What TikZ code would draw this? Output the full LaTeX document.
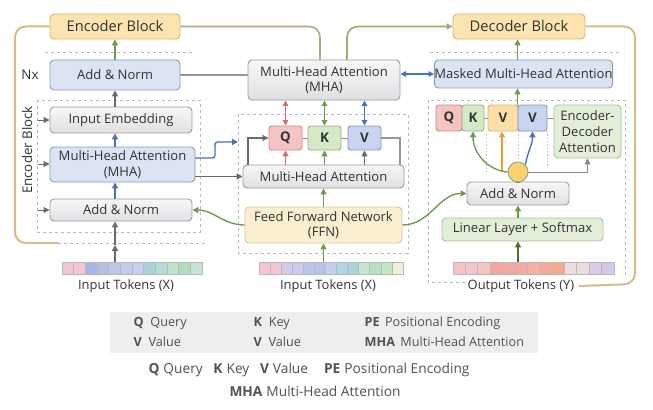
\documentclass[tikz,border=0pt]{standalone}
\usepackage{fontspec}
\setmainfont{Open Sans}
\usetikzlibrary{arrows.meta}
\definecolor{txt}{HTML}{333333}
\definecolor{orF}{HTML}{FCE3B0}\definecolor{orD}{HTML}{DDB46C}
\definecolor{blF}{HTML}{DCE3F2}\definecolor{blD}{HTML}{8C9CBA}
\definecolor{grT}{HTML}{F7F7F8}\definecolor{grB}{HTML}{E0E0E4}\definecolor{grD}{HTML}{9C9CA2}
\definecolor{qF}{HTML}{F5C4C2}\definecolor{qD}{HTML}{D08A88}
\definecolor{kF}{HTML}{D6E9C6}\definecolor{kD}{HTML}{93B282}
\definecolor{vF}{HTML}{C9D5F0}\definecolor{vD}{HTML}{8293C2}
\definecolor{voF}{HTML}{FCDFA6}\definecolor{voD}{HTML}{D9B46E}
\definecolor{ffF}{HTML}{FAEFD0}\definecolor{ffD}{HTML}{D8C693}
\definecolor{lnF}{HTML}{E3EED8}\definecolor{lnD}{HTML}{A9C198}
\definecolor{cyF}{HTML}{FAD46A}
\definecolor{cG}{HTML}{6C9A48}\definecolor{cB}{HTML}{4A72B0}\definecolor{cK}{HTML}{6A6A6A}
\definecolor{cR}{HTML}{D96C6C}\definecolor{cO}{HTML}{F39A2C}
\definecolor{olv}{HTML}{A9AE80}\definecolor{tan}{HTML}{D8BC84}
\definecolor{legF}{HTML}{EEEEEF}
\newcommand{\BX}[7]{\node[#1, minimum width={(#5-#3)*0.75pt}, minimum height={(#6-#4)*0.75pt}] (#2) at ({(#3+#5)/2},{(#4+#6)/2}) {#7};}
\begin{document}
\begin{tikzpicture}[x=0.75pt,y=-0.75pt, font=\fontsize{9.8}{11.8}\selectfont, text=txt,
  box/.style={draw, rounded corners=3pt, line width=0.7pt, inner sep=0pt, align=center},
  obox/.style={box, draw=orD, fill=orF, font=\fontsize{11}{13}\selectfont},
  bbox/.style={box, draw=blD, fill=blF},
  gbox/.style={box, draw=grD, top color=grT, bottom color=grB},
  qbox/.style={box, draw=qD, fill=qF, rounded corners=2pt, font=\fontsize{10}{12}\selectfont\bfseries},
  kbox/.style={box, draw=kD, fill=kF, rounded corners=2pt, font=\fontsize{10}{12}\selectfont\bfseries},
  vbox/.style={box, draw=vD, fill=vF, rounded corners=2pt, font=\fontsize{10}{12}\selectfont\bfseries},
  vobox/.style={box, draw=voD, fill=voF, rounded corners=2pt, font=\fontsize{10}{12}\selectfont\bfseries},
  fbox/.style={box, draw=ffD, fill=ffF},
  lbox/.style={box, draw=lnD, fill=lnF},
  arr/.style={-{Triangle[length=4.5pt,width=4.5pt]}, line width=1pt},
  darr/.style={{Triangle[length=4pt,width=4pt]}-{Triangle[length=4pt,width=4pt]}, line width=1pt},
  dsh/.style={draw=gray!55, dash pattern=on 2.5pt off 2pt, line width=0.7pt},
  dot/.style={draw=gray!50, dash pattern=on 1pt off 1.5pt, line width=0.7pt},
  lab/.style={font=\fontsize{9.7}{11}\selectfont},
  leg/.style={font=\fontsize{9.5}{11}\selectfont, anchor=west, text=txt!85},
  leg2/.style={font=\fontsize{10.3}{12}\selectfont, anchor=center, text=txt!85}
]
\useasboundingbox (0,0) rectangle (653,410);

% ---------- dashed frames ----------
\draw[dsh] (45,52) -- (195,52);
\draw[dsh] (37,100) rectangle (200,232);
\coordinate (tanend) at (58,243);
\draw[dsh] (tanend) -- (205,243);
\draw[dsh] (238,114) rectangle (408,253);
\draw[dsh] (430,52) -- (620,52);
\draw[dsh] (465,282) -| (428,100) -| (625,276);

% ---------- left: encoder ----------
\BX{obox}{encb}{50}{14}{180}{39}{Encoder Block}
\BX{bbox}{an1}{50}{60}{180}{90}{Add \& Norm}
\BX{gbox}{ie}{50}{107}{192}{133}{Input Embedding}
\BX{bbox}{mha1}{50}{147}{195}{182}{Multi-Head Attention\\(MHA)}
\BX{gbox}{an2}{50}{199}{192}{221}{Add \& Norm}
\node[font=\fontsize{10}{11}\selectfont] (nx) at (30,75) {Nx};
\node[rotate=90, font=\fontsize{10}{11}\selectfont] (encl) at (27,150) {Encoder Block};

\draw[tan, line width=1.5pt, rounded corners=8pt] (encb.west) -| (15,243) -- (tanend);

\coordinate (la1) at (38,120);\coordinate (la2) at (38,164);\coordinate (la3) at (38,210);
\draw[arr, cK, line width=0.7pt] (la1) -- (la1 -| ie.west);
\draw[arr, cK, line width=0.7pt] (la2) -- (la2 -| mha1.west);
\draw[arr, cK, line width=0.7pt] (la3) -- (la3 -| an2.west);

\draw[arr, cG] (an1.north) -- (encb.south);
\draw[arr, cK] (ie.north -| an1.north) -- (an1.south);
\draw[arr, cB] (mha1.north -| an1.north) -- (ie.south -| an1.north);
\draw[arr, cB] (an2.north -| an1.north) -- (mha1.south -| an1.north);

% tokens left
\foreach \c [count=\i from 0] in {F4C6D2,F4C6D2,A9B7E2,B3C0E6,BCC8EA,C2CDEC,C6D1EE,A8D4D9,B4DED4,BFE3CB,B2DEC0,C4E6D2}{
  \definecolor{tc}{HTML}{\c}
  \draw[draw=gray!55, fill=tc, line width=0.5pt] ({62+\i*11.67},262) rectangle ++(11.67,12);}
\BX{inner sep=0pt}{tokA}{62}{262}{202}{274}{}
\node[lab] (labA) at (126,286) {Input Tokens (X)};
\coordinate (lt) at (115,245);
\draw[arr, cK] (tokA.north -| an1.north) -- (lt);
\draw[arr, cK] (lt) -- (an2.south -| an1.north);

% ---------- middle ----------
\BX{gbox}{mha2}{248}{60}{400}{100}{Multi-Head Attention\\(MHA)}
\BX{qbox}{q1}{269}{126}{302}{150}{Q}
\BX{kbox}{k1}{308}{126}{341}{150}{K}
\BX{vbox}{v1}{348}{126}{381}{150}{V}
\BX{gbox}{mha3}{243}{165}{404}{188}{Multi-Head Attention}
\BX{fbox}{ffn}{245}{207}{402}{243}{Feed Forward Network\\(FFN)}

\draw[cK!70, line width=0.7pt] (q1.east) -- (k1.west);
\draw[cK!70, line width=0.7pt] (k1.east) -- (v1.west);
\draw[darr, cR] (q1.north) -- (mha2.south -| q1.north);
\draw[darr, cG] (k1.north) -- (mha2.south -| k1.north);
\draw[darr, cB] (v1.north) -- (mha2.south -| v1.north);
\draw[arr, cR] (mha3.north -| q1.south) -- (q1.south);
\draw[arr, cG] (mha3.north -| k1.south) -- (k1.south);
\draw[arr, cK] (mha3.north -| v1.south) -- (v1.south);
\coordinate (br1) at (248,165);\coordinate (br2) at (400,165);
\draw[arr, cK, line width=0.8pt] (br1) |- (q1.west);
\draw[cK!70, line width=0.8pt] (v1.east) -| (br2);

\draw[cK!70, line width=1pt] (an1.east) -- (an1.east -| mha2.west);
\coordinate (bl1) at (195,158);\coordinate (bl2) at (238,142);
\draw[arr, cB, rounded corners=2pt] (bl1) -- (215,158) -- (215,142) -- (bl2);
\draw[arr, cK] (mha3.west -| mha1.east) -- (mha3.west);
\draw[arr, cG] (ffn.west) to[out=180, in=0] (an2.east);
\draw[arr, cG] (ffn.north) -- (mha3.south -| ffn.north);

\foreach \c [count=\i from 0] in {F3C4D4,F3C4D4,D2CCEC,C9CCEE,B9C6EA,B5C4EA,C2D0EE,B0D8E4,A8D4D6,C8E6CF,B9E0C0,C4E6C6,EEF0D8}{
  \definecolor{tc}{HTML}{\c}
  \draw[draw=gray!55, fill=tc, line width=0.5pt] ({259+\i*11.08},262) rectangle ++(11.08,12);}
\BX{inner sep=0pt}{tokB}{259}{262}{403}{274}{}
\node[lab] (labB) at (328,286) {Input Tokens (X)};
\draw[arr, cG] (tokB.north -| ffn.south) -- (ffn.south);

% top connectors
\coordinate (m2a) at (320,60);\coordinate (m2b) at (347,60);
\draw[olv, line width=1.2pt, rounded corners=8pt] (encb.east) -| (m2a);

% ---------- right: decoder ----------
\BX{obox}{decb}{453}{14}{585}{39}{Decoder Block}
\BX{bbox}{mmha}{437}{60}{610}{88}{Masked Multi-Head Attention}
\BX{qbox}{q2}{436}{105}{462}{131}{Q}
\BX{kbox}{k2}{462}{105}{484}{131}{K}
\BX{vobox}{v2}{488}{105}{518}{131}{V}
\BX{vbox}{v3}{518}{105}{547}{131}{V}
\BX{lbox}{ed}{554}{105}{621}{158}{Encoder-\\Decoder\\Attention}
\BX{gbox}{an3}{467}{182}{569}{205}{Add \& Norm}
\BX{lbox}{lin}{442}{218}{603}{241}{Linear Layer + Softmax}

\draw[arr, olv!80!cG, line width=1.2pt, rounded corners=8pt] (m2b) |- (decb.west);
\draw[darr, cB] (mha2.east |- mmha.west) -- (mmha.west);
\draw[arr, cG] (mmha.north -| v3.north west) -- (decb.south -| v3.north west);
\draw[arr, cG] (v3.north west) -- (mmha.south -| v3.north west);
\draw[cK!70, line width=0.7pt] (k2.east) -- (v2.west);
\draw[cK!70, line width=0.7pt] (v3.east) -- (v3.east -| ed.west);

\draw[dot] (486,131) -- (486,172);
\draw[dot] (518,131) -- (518,160);
\draw[dot] (547,131) -- (547,166);

\draw[arr, cO, line width=1.3pt] (502,172) -- (v2.south -| 502,0);
\node[circle, draw=grD, fill=cyF, minimum size=20*0.75pt, inner sep=0pt, line width=0.7pt] (cy) at (518,172) {};
\draw[arr, cG] (cy.west) to[out=175, in=-90] (k2.south);
\draw[arr, cB] (cy.north east) to[out=80, in=-90] (v3.south);
\draw[arr, cK!80, line width=0.7pt] (cy.east) -| (ed.south);
\draw[cG, line width=2.5pt] (cy.south) -- (an3.north -| cy.south);
\draw[arr, cG] (lin.north -| an3.south) -- (an3.south);
\draw[arr, cG] (ffn.east) to[out=0, in=180] (an3.west);

\foreach \c [count=\i from 0] in {F4C4C8,F4C4C8,F6C4C4,F2A8A0,F2A8A0,F4A8A0,F6B0A0,F6A898,F4A88C,ECDCE0,ECDCE0,D8CCEC,D4C8EC}{
  \definecolor{tc}{HTML}{\c}
  \draw[draw=gray!55, fill=tc, line width=0.5pt] ({453+\i*12.38},262) rectangle ++(12.38,12);}
\BX{inner sep=0pt}{tokC}{453}{262}{614}{274}{}
\node[lab] (labC) at (521,286) {Output Tokens (Y)};
\draw[arr, cG!70!black] (tokC.north -| an3.south) -- (lin.south -| an3.south);
\draw[tan, line width=1.5pt, rounded corners=8pt] (decb.east) -| (635,284) -- (labC.east);

% ---------- legend ----------
\draw[draw=none, fill=legF] (110,312) rectangle (538,353);
\node[leg] (l1) at (129,323) {\textbf{Q}\hspace{5pt}Query};
\node[leg] (l2) at (249,323) {\textbf{K}\hspace{5pt}Key};
\node[leg] (l3) at (360,323) {\textbf{PE}\hspace{4pt}Positional Encoding};
\node[leg] (l4) at (129,342) {\textbf{V}\hspace{5pt}Value};
\node[leg] (l5) at (249,342) {\textbf{V}\hspace{5pt}Value};
\node[leg] (l6) at (360,342) {\textbf{MHA}\hspace{4pt}Multi-Head Attention};
\node[leg2] (l7) at (309,370) {\textbf{Q}\hspace{3pt}Query\hspace{8pt}\textbf{K}\hspace{3pt}Key\hspace{8pt}\textbf{V}\hspace{3pt}Value\hspace{12pt}\textbf{PE}\hspace{3pt}Positional Encoding};
\node[leg2] (l8) at (315,391) {\textbf{MHA}\hspace{3pt}Multi-Head Attention};
\end{tikzpicture}
\end{document}
